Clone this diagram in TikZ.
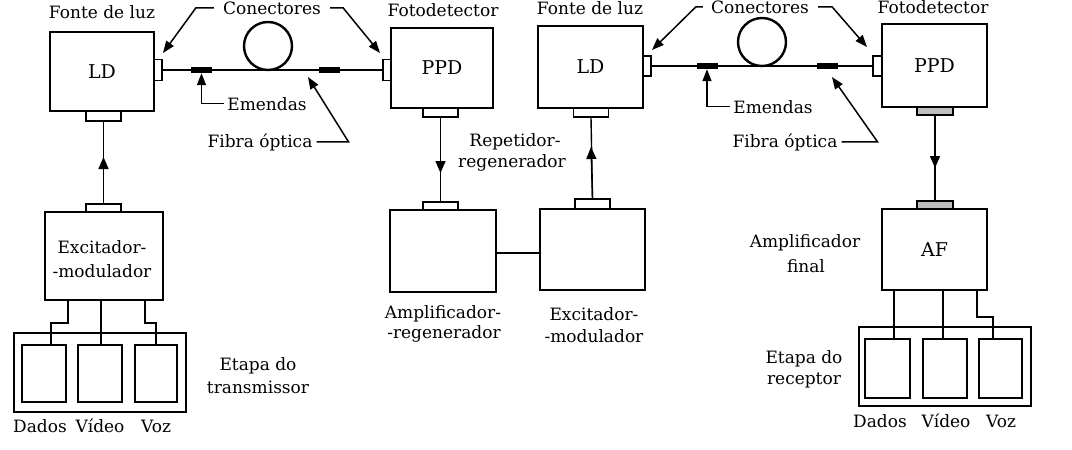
\documentclass[tikz,border=0pt]{standalone}
\usepackage{fontspec}
\setmainfont{DejaVu Serif}
\usetikzlibrary{arrows.meta,calc}
\newcommand\lblfont{\fontsize{17pt}{19pt}\selectfont}
\newcommand\boxfont{\fontsize{19pt}{21pt}\selectfont}
\begin{document}
\begin{tikzpicture}[x=1pt,y=-1pt,
  box/.style={draw, line width=2.8pt, inner sep=0pt, font=\boxfont},
  port/.style={draw, line width=1.2pt, fill=white, inner sep=0pt},
  gport/.style={port, fill=gray!50},
  splice/.style={fill=black, inner sep=0pt, minimum width=21pt, minimum height=6pt},
  loopc/.style={draw, circle, line width=2.4pt, minimum size=48pt, inner sep=0pt},
  fiber/.style={line width=2.4pt},
  wire/.style={line width=1.4pt},
  arr/.style={line width=1.4pt, -{Triangle[length=12pt,width=10pt]}},
  lead/.style={line width=1.5pt, -{Triangle[length=12pt,width=9pt]}},
  lbl/.style={font=\lblfont, inner sep=0pt, anchor=base},
  small/.style={draw, line width=1.4pt, inner sep=0pt}]
\useasboundingbox (0,0) rectangle (1072,450);

% ---------- left link ----------
\node[box, minimum width=104pt, minimum height=79pt] (ld1) at (102,71.5) {LD};
\node[port, minimum width=8pt, minimum height=21pt] (c1) at (158,70) {};
\node[box, minimum width=102pt, minimum height=80pt] (ppd1) at (442,68) {PPD};
\node[port, minimum width=8pt, minimum height=21pt] (c2) at (387,70) {};
\node[port, minimum width=35pt, minimum height=10pt] (pb1) at (103.5,116) {};
\node[port, minimum width=35pt, minimum height=9pt] (pb2) at (440.5,112.5) {};
\draw[fiber] (c1.east) -- (c2.west);
\node[loopc] (loop1) at (268,46) {};
\node[splice] (s1) at (201.5,70) {};
\node[splice] (s2) at (329.5,70) {};

% transmitter
\node[box, minimum width=118pt, minimum height=88pt] (exc1) at (104,256) {};
\node[lbl] (excA) at (102,253) {Excitador-};
\node[lbl] (excB) at (102,277) {-modulador};
\node[port, minimum width=35pt, minimum height=8pt] (pe1) at (103.5,208) {};
\node[box, minimum width=172pt, minimum height=79pt] (ob1) at (100,372.5) {};
\node[small, minimum width=44pt, minimum height=57pt] (ib1) at (44,373.5) {};
\node[small, minimum width=44pt, minimum height=57pt] (ib2) at (100,373.5) {};
\node[small, minimum width=42pt, minimum height=57pt] (ib3) at (156,373.5) {};
\draw[wire] (exc1.south -| 68,0) -- (68,323) -- (51,323) -- (ib1.north -| 51,0);
\draw[wire] (exc1.south -| 101,0) -- (ib2.north -| 101,0);
\draw[wire] (exc1.south -| 145,0) -- (145,323) -- (156,323) -- (ib3.north -| 156,0);
\coordinate (t1) at (103.5,157);
\draw[wire] (pb1.south) -- (pe1.north);
\draw[arr] (pe1.north) -- (t1);

% repeater
\node[box, minimum width=106pt, minimum height=82pt] (amp) at (443,251) {};
\node[port, minimum width=35pt, minimum height=8pt] (pa) at (440.5,206) {};
\coordinate (t2) at (440.5,173);
\draw[wire] (pb2.south) -- (pa.north);
\draw[arr] (pb2.south) -- (t2);
\node[box, minimum width=105pt, minimum height=81pt] (exc2) at (592.5,249.5) {};
\node[port, minimum width=35pt, minimum height=10pt] (pe2) at (592.5,204) {};
\draw[wire] (amp.east |- 0,253) -- (exc2.west |- 0,253);

% ---------- right link ----------
\node[box, minimum width=105pt, minimum height=82pt] (ld2) at (590.5,67) {LD};
\node[port, minimum width=8pt, minimum height=20pt] (c3) at (647,66) {};
\node[port, minimum width=35pt, minimum height=9pt] (pb3) at (591,112.5) {};
\coordinate (t3) at (591,147);
\draw[wire] (pb3.south) -- (pe2.north);
\draw[arr] (pe2.north) -- (t3);
\node[box, minimum width=105pt, minimum height=83pt] (ppd2) at (934.5,65.5) {PPD};
\node[port, minimum width=9pt, minimum height=20pt] (c4) at (877.5,66) {};
\node[gport, minimum width=36pt, minimum height=8pt] (pb4) at (935,111) {};
\draw[fiber] (c3.east) -- (c4.west);
\node[loopc] (loop2) at (762,42) {};
\node[splice] (s3) at (707,66) {};
\node[splice] (s4) at (827,66) {};

% receiver
\node[box, minimum width=105pt, minimum height=81pt] (af) at (934.5,249.5) {AF};
\node[gport, minimum width=36pt, minimum height=8pt] (pf) at (935,205) {};
\coordinate (t4) at (935,168);
\draw[wire] (pb4.south) -- (pf.north);
\draw[arr] (pb4.south) -- (t4);
\node[box, minimum width=172pt, minimum height=79pt] (ob2) at (945,366.5) {};
\node[small, minimum width=45pt, minimum height=59pt] (ib4) at (887.5,368.5) {};
\node[small, minimum width=44pt, minimum height=59pt] (ib5) at (945,368.5) {};
\node[small, minimum width=43pt, minimum height=59pt] (ib6) at (1000.5,368.5) {};
\draw[wire] (af.south -| 894,0) -- (ib4.north -| 894,0);
\draw[wire] (af.south -| 943,0) -- (ib5.north -| 943,0);
\draw[wire] (af.south -| 977,0) -- (977,317) -- (993,317) -- (ib6.north -| 993,0);

% ---------- labels ----------
\node[lbl] (fl1) at (102,18) {Fonte de luz};
\node[lbl] (conL) at (272,14) {Conectores};
\node[lbl] (fd1) at (443,16) {Fotodetector};
\node[lbl] (fl2) at (590,14) {Fonte de luz};
\node[lbl] (conR) at (760,13) {Conectores};
\node[lbl] (fd2) at (933,13) {Fotodetector};
\node[lbl] (emL) at (267,110) {Emendas};
\node[lbl] (fibL) at (260,147) {Fibra óptica};
\node[lbl] (emR) at (773,113) {Emendas};
\node[lbl] (fibR) at (785,147) {Fibra óptica};
\node[lbl] (repA) at (515,146) {Repetidor-};
\node[lbl] (repB) at (512,167) {regenerador};
\node[lbl] at (40,432) {Dados};
\node[lbl] at (100,432) {Vídeo};
\node[lbl] at (156,432) {Voz};
\node[lbl] at (258,370) {Etapa do};
\node[lbl] at (258,393) {transmissor};
\node[lbl] at (443,318) {Amplificador-};
\node[lbl] at (444,338) {-regenerador};
\node[lbl] at (594,320) {Excitador-};
\node[lbl] at (594,342) {-modulador};
\node[lbl] at (805,247) {Amplificador};
\node[lbl] at (806,272) {final};
\node[lbl] at (804,363) {Etapa do};
\node[lbl] at (804,384) {receptor};
\node[lbl] at (880,427) {Dados};
\node[lbl] at (946,427) {Vídeo};
\node[lbl] at (1001,427) {Voz};

% ---------- leaders ----------
\coordinate (tA) at (163,53);
\coordinate (tB) at (380,53);
\coordinate (tC) at (652,50);
\coordinate (tD) at (867,47);
\coordinate (tE) at (308,77);
\coordinate (tF) at (832,77);
\draw[lead] ([xshift=-9pt]conL.west) -- ([xshift=-27pt]conL.west) -- (tA);
\draw[lead] ([xshift=9pt]conL.east) -- ([xshift=22pt]conL.east) -- (tB);
\draw[lead] ([xshift=-8pt]conR.west) -- ([xshift=-15pt]conR.west) -- (tC);
\draw[lead] ([xshift=9pt]conR.east) -- ([xshift=23pt]conR.east) -- (tD);
\draw[lead] ([xshift=-3pt]emL.west) -| (s1.south);
\draw[lead] ([xshift=-3pt]emR.west) -| (s3.south);
\draw[lead] ([xshift=4pt]fibL.east) -- ([xshift=36pt]fibL.east) -- (tE);
\draw[lead] ([xshift=4pt]fibR.east) -- ([xshift=40pt]fibR.east) -- (tF);
\end{tikzpicture}
\end{document}
